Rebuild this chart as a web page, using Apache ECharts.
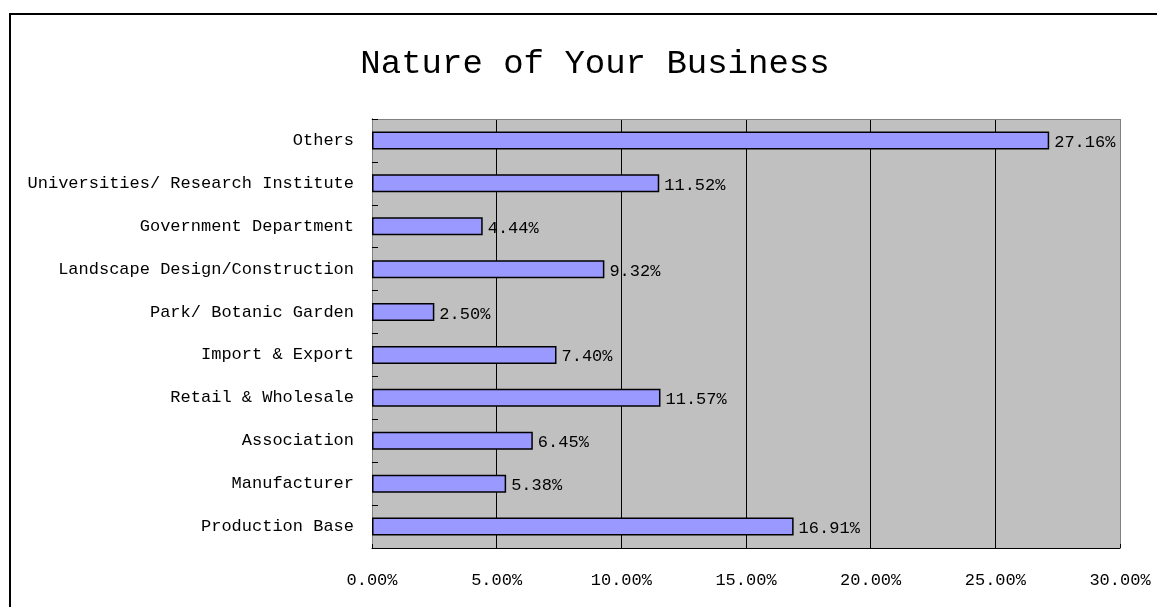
<!DOCTYPE html>
<html>
<head>
<meta charset="utf-8">
<script src="https://cdn.jsdelivr.net/npm/echarts@6/dist/echarts.min.js"></script>
<style>
  html, body { margin: 0; padding: 0; background: #fff; }
  #chart { width: 1157px; height: 607px; }
</style>
</head>
<body>
<div id="chart"></div>
<script>
// Business types, listed from the bottom of the chart to the top
const categories = [
  'Production Base',
  'Manufacturer',
  'Association',
  'Retail & Wholesale',
  'Import & Export',
  'Park/ Botanic Garden',
  'Landscape Design/Construction',
  'Government Department',
  'Universities/ Research Institute',
  'Others'
];
// Share of respondents, in percent
const shares = [16.91, 5.38, 6.45, 11.57, 7.40, 2.50, 9.32, 4.44, 11.52, 27.16];

const FONT = '"Liberation Mono", "DejaVu Sans Mono", monospace';

const chart = echarts.init(document.getElementById('chart'));
chart.setOption({
  animation: false,
  backgroundColor: '#ffffff',
  title: {
    text: 'Nature of Your Business',
    left: 590,
    top: 42,
    textAlign: 'center',
    textStyle: { fontFamily: FONT, fontSize: 34, fontWeight: 'normal', color: '#000' }
  },
  graphic: [{
    type: 'rect',
    shape: { x: 10, y: 14, width: 1200, height: 700 },
    style: { fill: 'none', stroke: '#000', lineWidth: 2 },
    z: 100
  }],
  grid: {
    left: 372, right: 37, top: 119, bottom: 59,
    show: true,
    backgroundColor: '#c0c0c0',
    borderWidth: 0
  },
  xAxis: [{
    type: 'value',
    min: 0, max: 30, interval: 5,
    axisLine: { show: true, lineStyle: { color: '#000', width: 1 } },
    axisTick: { show: true, inside: true, length: 4, lineStyle: { color: '#000' } },
    axisLabel: {
      margin: 24,
      fontFamily: FONT, fontSize: 17, color: '#000',
      formatter: v => v.toFixed(2) + '%'
    },
    splitLine: {
      show: true,
      lineStyle: { color: ['#000', '#000', '#000', '#000', '#000', '#000', '#808080'], width: 1 }
    }
  }, {
    type: 'value',
    position: 'top',
    min: 0, max: 30,
    axisLine: { show: true, lineStyle: { color: '#808080', width: 1 } },
    axisTick: { show: false },
    axisLabel: { show: false },
    splitLine: { show: false }
  }],
  yAxis: [{
    type: 'category',
    data: categories,
    axisLine: { show: true, lineStyle: { color: '#000', width: 1 } },
    axisTick: { show: true, inside: true, length: 6, lineStyle: { color: '#000' } },
    axisLabel: { margin: 18, fontFamily: FONT, fontSize: 17, color: '#000', padding: [3, 0, 0, 0] },
    splitLine: { show: false }
  }, {
    type: 'category',
    position: 'right',
    data: categories,
    axisLine: { show: true, lineStyle: { color: '#808080', width: 1 } },
    axisTick: { show: false },
    axisLabel: { show: false }
  }],
  series: [{
    type: 'bar',
    data: shares,
    barWidth: 18,
    itemStyle: { color: '#9999ff', borderColor: '#000', borderWidth: 1.5 },
    label: {
      show: true,
      position: 'right',
      distance: 5,
      offset: [0, 2],
      fontFamily: FONT, fontSize: 17, color: '#000',
      formatter: p => p.value.toFixed(2) + '%'
    }
  }]
});
</script>
</body>
</html>
